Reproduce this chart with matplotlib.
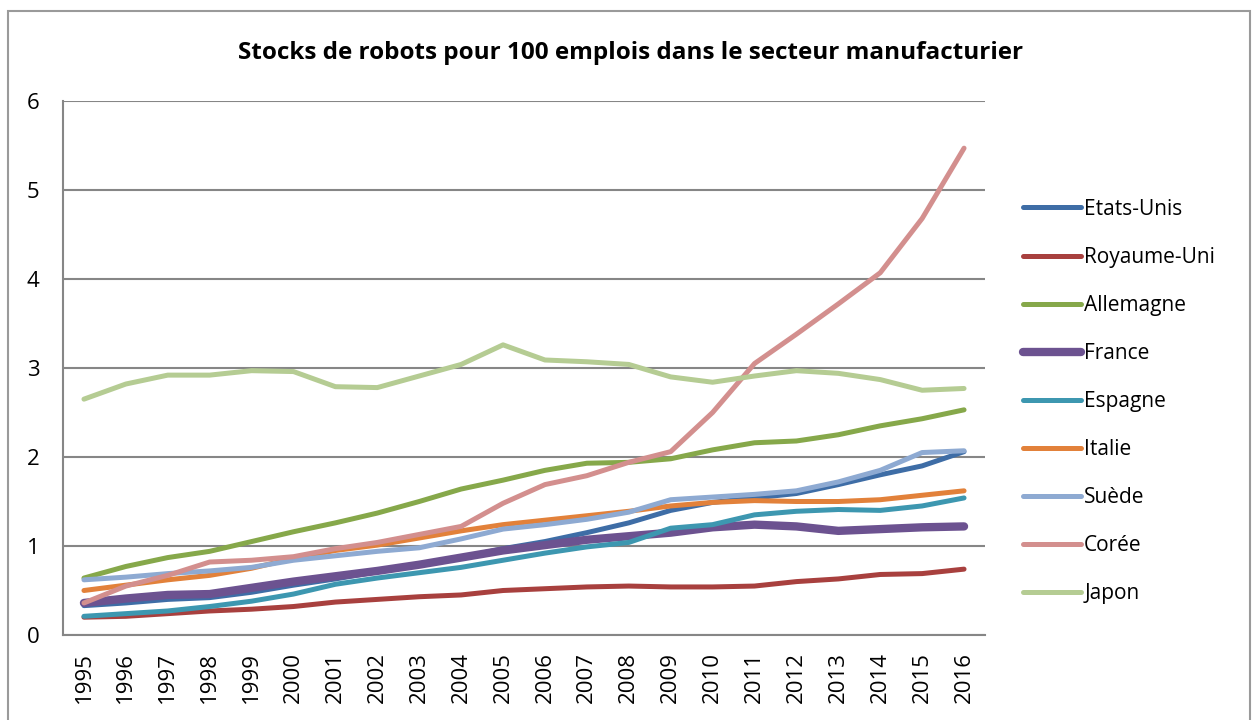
import numpy as np
import matplotlib
matplotlib.use("Agg")
import matplotlib.pyplot as plt
from matplotlib.patches import Rectangle

plt.rcParams['font.family'] = ['Open Sans', 'DejaVu Sans']

years = [str(y) for y in range(1995, 2017)]

etats_unis = [0.33, 0.36, 0.40, 0.42, 0.48, 0.56, 0.63, 0.71, 0.79, 0.87, 0.97,
              1.05, 1.15, 1.26, 1.40, 1.49, 1.54, 1.59, 1.69, 1.80, 1.90, 2.06]
royaume_uni = [0.20, 0.21, 0.24, 0.27, 0.29, 0.32, 0.37, 0.40, 0.43, 0.45, 0.50,
               0.52, 0.54, 0.55, 0.54, 0.54, 0.55, 0.60, 0.63, 0.68, 0.69, 0.74]
allemagne = [0.64, 0.77, 0.87, 0.94, 1.05, 1.16, 1.26, 1.37, 1.50, 1.64, 1.74,
             1.85, 1.93, 1.94, 1.98, 2.08, 2.16, 2.18, 2.25, 2.35, 2.43, 2.53]
france = [0.36, 0.41, 0.45, 0.46, 0.53, 0.60, 0.66, 0.72, 0.79, 0.87, 0.95,
          1.01, 1.07, 1.11, 1.15, 1.21, 1.24, 1.22, 1.17, 1.19, 1.21, 1.22]
espagne = [0.21, 0.24, 0.27, 0.32, 0.38, 0.46, 0.57, 0.64, 0.70, 0.76, 0.84,
           0.92, 0.99, 1.04, 1.20, 1.24, 1.35, 1.39, 1.41, 1.40, 1.45, 1.54]
italie = [0.50, 0.56, 0.62, 0.67, 0.75, 0.86, 0.95, 1.01, 1.09, 1.17, 1.24,
          1.29, 1.34, 1.39, 1.45, 1.49, 1.51, 1.50, 1.50, 1.52, 1.57, 1.62]
suede = [0.62, 0.65, 0.69, 0.72, 0.76, 0.84, 0.89, 0.94, 0.98, 1.08, 1.19,
         1.24, 1.30, 1.38, 1.52, 1.55, 1.58, 1.62, 1.72, 1.85, 2.05, 2.07]
coree = [0.36, 0.55, 0.67, 0.82, 0.84, 0.88, 0.97, 1.04, 1.13, 1.22, 1.48,
         1.69, 1.79, 1.94, 2.06, 2.50, 3.05, 3.38, 3.72, 4.07, 4.68, 5.47]
japon = [2.65, 2.82, 2.92, 2.92, 2.97, 2.96, 2.79, 2.78, 2.91, 3.04, 3.26,
         3.09, 3.07, 3.04, 2.90, 2.84, 2.91, 2.97, 2.94, 2.87, 2.75, 2.77]

series = [
    ("Etats-Unis", etats_unis, "#3e6da6", 3.6),
    ("Royaume-Uni", royaume_uni, "#a8403e", 3.6),
    ("Allemagne", allemagne, "#86a84a", 3.6),
    ("France", france, "#6c5290", 6.0),
    ("Espagne", espagne, "#3d97b0", 3.6),
    ("Italie", italie, "#e2813a", 3.6),
    ("Suède", suede, "#8eaad2", 3.6),
    ("Corée", coree, "#d38f8e", 3.6),
    ("Japon", japon, "#b5cc93", 3.6),
]

fig = plt.figure(figsize=(12.55, 7.2), dpi=100)
ax = fig.add_axes([63 / 1255, 1 - 635 / 720, (985 - 63) / 1255, (635 - 101) / 720])

x = np.arange(len(years))
for name, vals, col, lw in series:
    ax.plot(x, vals, color=col, lw=lw, label=name, solid_capstyle='round',
            solid_joinstyle='round')

ax.set_xlim(-0.5, len(years) - 0.5)
ax.set_ylim(0, 6)
ax.set_yticks(range(0, 7))
ax.set_xticks(x)
ax.set_xticklabels(years, rotation=90)
ax.tick_params(axis='both', length=0, labelsize=16, colors='black')
ax.tick_params(axis='y', pad=17)
ax.tick_params(axis='x', pad=12)

grid_col = '#868686'
ax.grid(axis='y', color=grid_col, lw=1.5)
ax.set_axisbelow(True)
for s in ['top', 'right']:
    ax.spines[s].set_visible(False)
for s in ['left', 'bottom']:
    ax.spines[s].set_color(grid_col)
    ax.spines[s].set_linewidth(1.5)

fig.text(0.5 * (237 + 1025) / 1255, 1 - 53 / 720,
         "Stocks de robots pour 100 emplois dans le secteur manufacturier",
         ha='center', va='center', fontsize=17.5, fontweight='bold')

fig.legend(loc='upper left', bbox_to_anchor=(1004 / 1255, 1 - 180 / 720),
           frameon=False, fontsize=15, handlelength=2.8, handletextpad=0.15,
           labelspacing=1.3)

# chart frame
fig.add_artist(Rectangle((8 / 1255, -0.1), (1250 - 8) / 1255, 1.1 - 11 / 720,
                         transform=fig.transFigure, fill=False,
                         edgecolor='#9a9a9a', lw=1.5))

fig.savefig("out.png", dpi=100)
